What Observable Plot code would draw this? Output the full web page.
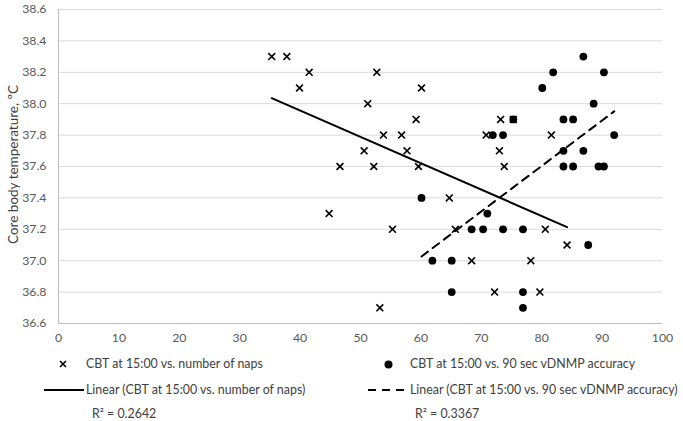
<!DOCTYPE html>
<html><head><meta charset="utf-8">
<script src="https://cdn.jsdelivr.net/npm/d3@7"></script>
<script src="https://cdn.jsdelivr.net/npm/@observablehq/plot@0.6"></script>
<style>
body{margin:0;background:#fff;font-family:Lato,"Open Sans",sans-serif;}
#wrap{position:relative;width:683px;height:421px;overflow:hidden;background:#fff;}
#wrap svg.chart{position:absolute;left:0;top:0;}
.lg{position:absolute;font-size:12.4px;color:#404040;white-space:nowrap;line-height:14px;}
.ic{position:absolute;line-height:0;}
.ic svg{display:block;}
</style></head><body><div id="wrap"></div>
<script>
// CBT at 15:00 vs. number of naps
const napsX = [35.3, 37.8, 41.5, 39.9, 52.7, 51.2, 53.8, 50.6, 46.6, 52.2, 60.1, 56.8, 59.2, 57.7, 59.6, 64.7, 70.8, 73.2, 75.3, 73.0, 73.8, 44.8, 55.3, 65.7, 68.4, 78.2, 72.2, 53.2, 80.6, 84.2, 79.7, 81.6];
const napsY = [38.3, 38.3, 38.2, 38.1, 38.2, 38.0, 37.8, 37.7, 37.6, 37.6, 38.1, 37.8, 37.9, 37.7, 37.6, 37.4, 37.8, 37.9, 37.9, 37.7, 37.6, 37.3, 37.2, 37.2, 37.0, 37.0, 36.8, 36.7, 37.2, 37.1, 36.8, 37.8];
// CBT at 15:00 vs. 90 sec vDNMP accuracy
const accX = [60.1, 71.9, 73.6, 75.3, 86.9, 81.9, 90.3, 80.1, 88.6, 83.6, 85.2, 92.0, 83.6, 86.9, 83.6, 85.2, 89.4, 90.3, 71.0, 68.4, 70.3, 73.6, 76.9, 61.9, 65.1, 65.1, 76.9, 76.9, 87.7];
const accY = [37.4, 37.8, 37.8, 37.9, 38.3, 38.2, 38.2, 38.1, 38.0, 37.9, 37.9, 37.8, 37.7, 37.7, 37.6, 37.6, 37.6, 37.6, 37.3, 37.2, 37.2, 37.2, 37.2, 37.0, 37.0, 36.8, 36.8, 36.7, 37.1];
// Linear trendlines (endpoints)
const napsTrendX = [35.3, 84.2];
const napsTrendY = [38.035, 37.214];
const accTrendX = [60.1, 92.0];
const accTrendY = [37.027, 37.951];
const xTicks = [0, 10, 20, 30, 40, 50, 60, 70, 80, 90, 100];
const yTicks = [36.6, 36.8, 37.0, 37.2, 37.4, 37.6, 37.8, 38.0, 38.2, 38.4, 38.6];
const yTitle = "Core body temperature, ºC";
const seriesNames = ["CBT at 15:00 vs. number of naps", "CBT at 15:00 vs. 90 sec vDNMP accuracy"];
const trendNames = ["Linear (CBT at 15:00 vs. number of naps)", "Linear (CBT at 15:00 vs. 90 sec vDNMP accuracy)"];
const r2Labels = ["R² = 0.2642", "R² = 0.3367"];

const naps = napsX.map((x, i) => ({x, y: napsY[i]}));
const acc = accX.map((x, i) => ({x, y: accY[i]}));
const napsTrend = napsTrendX.map((x, i) => ({x, y: napsTrendY[i]}));
const accTrend = accTrendX.map((x, i) => ({x, y: accTrendY[i]}));

const chart = Plot.plot({
  width: 683, height: 352,
  marginLeft: 58, marginRight: 21, marginTop: 9, marginBottom: 29,
  style: {fontFamily: "Lato, 'Open Sans', sans-serif", fontSize: "12.3px", color: "#595959", background: "#fff"},
  x: {domain: [0, 100], ticks: xTicks, tickSize: 0, tickPadding: 10, label: null},
  y: {domain: [36.6, 38.6], ticks: yTicks, tickSize: 0, tickPadding: 12, tickFormat: d3.format(".1f"), label: null},
  marks: [
    Plot.ruleY(yTicks, {stroke: "#d9d9d9", strokeWidth: 1}),
    Plot.ruleX([0], {stroke: "#bfbfbf", strokeWidth: 1}),
    Plot.ruleY([36.6], {stroke: "#bfbfbf", strokeWidth: 1}),
    Plot.line(napsTrend, {x: "x", y: "y", stroke: "#000", strokeWidth: 2}),
    Plot.line(accTrend, {x: "x", y: "y", stroke: "#000", strokeWidth: 2, strokeDasharray: "8,6"}),
    Plot.dot(acc, {x: "x", y: "y", r: 3.9, fill: "#000", stroke: "none"}),
    Plot.dot(naps, {x: "x", y: "y", symbol: "times", r: 3.2, stroke: "#000", strokeWidth: 1.6}),
    Plot.text([yTitle], {frameAnchor: "left", textAnchor: "middle", rotate: -90, dx: -45, dy: -2, fontSize: 13.5, fill: "#404040"})
  ]
});
chart.classList.add("chart");
const wrap = document.getElementById("wrap");
wrap.appendChild(chart);

function addText(txt, left, cy) {
  const d = document.createElement("div");
  d.className = "lg";
  d.style.left = left + "px";
  d.style.top = (cy - 7) + "px";
  d.textContent = txt;
  wrap.appendChild(d);
}
function addIcon(svg, left, top, w, h) {
  const d = document.createElement("div");
  d.className = "ic";
  d.style.left = left + "px"; d.style.top = top + "px";
  d.innerHTML = `<svg width="${w}" height="${h}">${svg}</svg>`;
  wrap.appendChild(d);
}
const row1 = 364, row2 = 390, row3 = 414;
// left column
addIcon(`<path d="M1,1L7,7M7,1L1,7" stroke="#000" stroke-width="1.6"/>`, 59, row1 - 4, 8, 8);
addText(seriesNames[0], 86, row1);
addIcon(`<line x1="0" y1="2" x2="40" y2="2" stroke="#000" stroke-width="2"/>`, 44, row2 - 2, 40, 4);
addText(trendNames[0], 86, row2);
addText(r2Labels[0], 92, row3);
// right column
addIcon(`<circle cx="4.5" cy="4.5" r="4" fill="#000"/>`, 384, row1 - 4.5, 9, 9);
addText(seriesNames[1], 410, row1);
addIcon(`<line x1="0" y1="2" x2="40" y2="2" stroke="#000" stroke-width="2" stroke-dasharray="8,6"/>`, 368, row2 - 2, 40, 4);
addText(trendNames[1], 410, row2);
addText(r2Labels[1], 415, row3);
</script></body></html>
